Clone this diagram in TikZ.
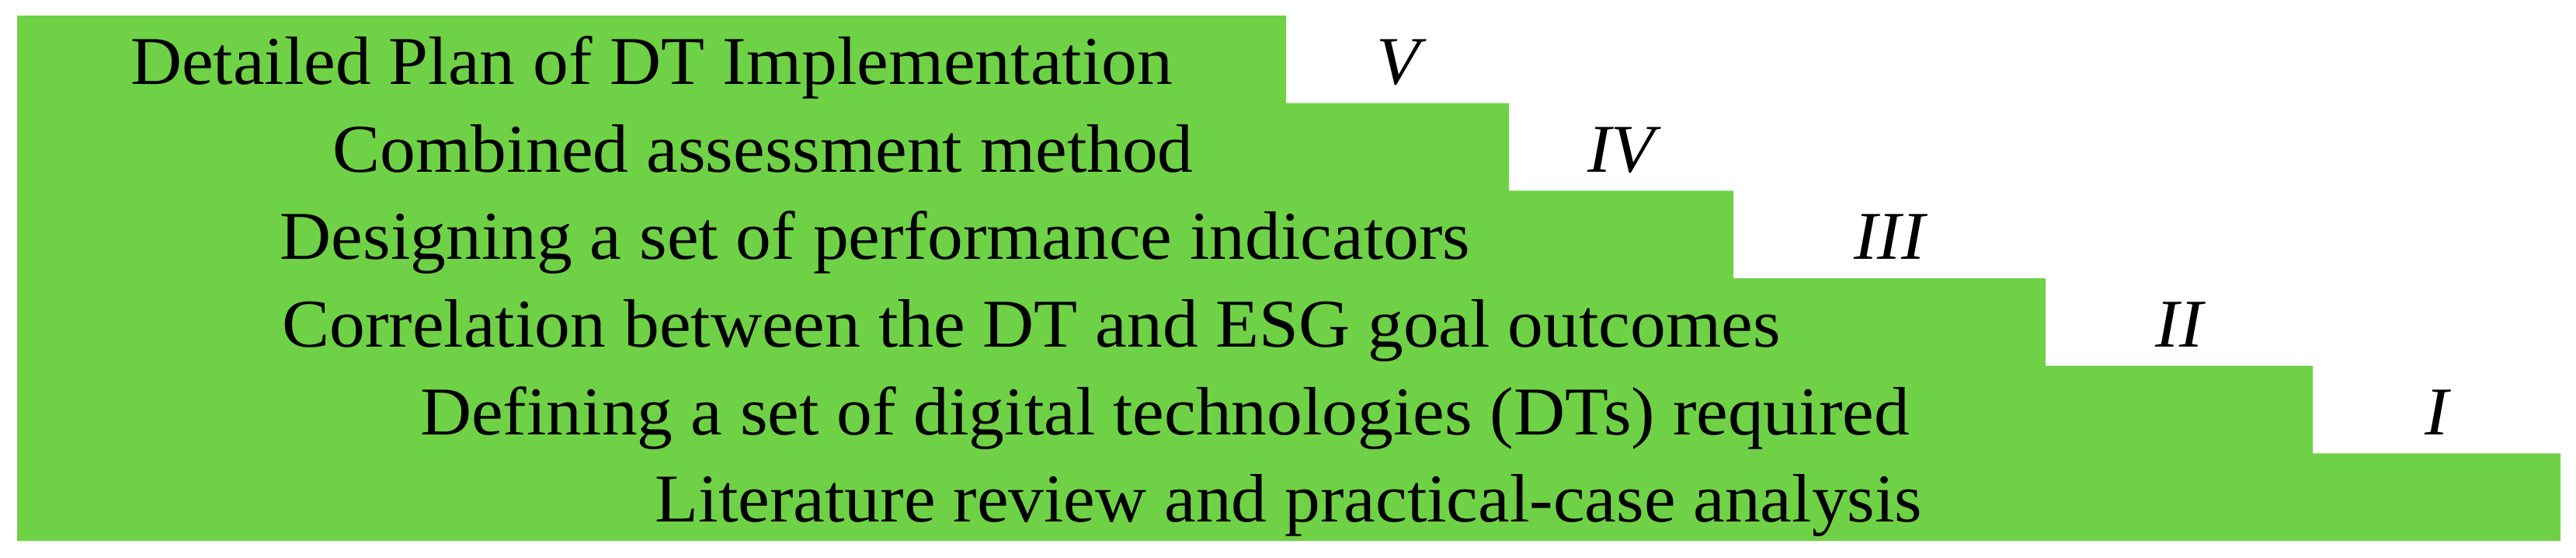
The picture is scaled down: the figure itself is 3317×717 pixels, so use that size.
\documentclass[tikz,border=0pt]{standalone}
\usepackage{fontspec}
\setmainfont{Liberation Serif}[FakeStretch=1.04]
\definecolor{stepgreen}{RGB}{111,209,70}
\begin{document}
\begin{tikzpicture}[x=0.25pt,y=-0.25pt,
  lbl/.style={font=\fontsize{22}{24}\selectfont, anchor=base, inner sep=0pt},
  num/.style={font=\fontsize{22}{24}\selectfont\itshape, anchor=base, inner sep=0pt}]
\useasboundingbox (0,0) rectangle (3317,717);
\fill[stepgreen] (22,20) -- (1656,20) -- (1656,132.7) -- (1943,132.7) -- (1943,245.3)
  -- (2232,245.3) -- (2232,358) -- (2634,358) -- (2634,470.7) -- (2978,470.7)
  -- (2978,583.3) -- (3297,583.3) -- (3297,696) -- (22,696) -- cycle;
\node[lbl] (t5) at (839,108.5) {Detailed Plan of DT Implementation};
\node[lbl] (t4) at (982.5,221.2) {Combined assessment method};
\node[lbl] (t3) at (1127,333.8) {Designing a set of performance indicators};
\node[lbl] (t2) at (1328,446.5) {Correlation between the DT and ESG goal outcomes};
\node[lbl] (t1) at (1500,559.2) {Defining a set of digital technologies (DTs) required};
\node[lbl] (t0) at (1659.5,671.8) {Literature review and practical-case analysis};
\node[num] (n5) at (1800,108.5) {V};
\node[num] (n4) at (2087.5,221.2) {IV};
\node[num] (n3) at (2433,333.8) {III};
\node[num] (n2) at (2806,446.5) {II};
\node[num] (n1) at (3137.5,559.2) {I};
\end{tikzpicture}
\end{document}
